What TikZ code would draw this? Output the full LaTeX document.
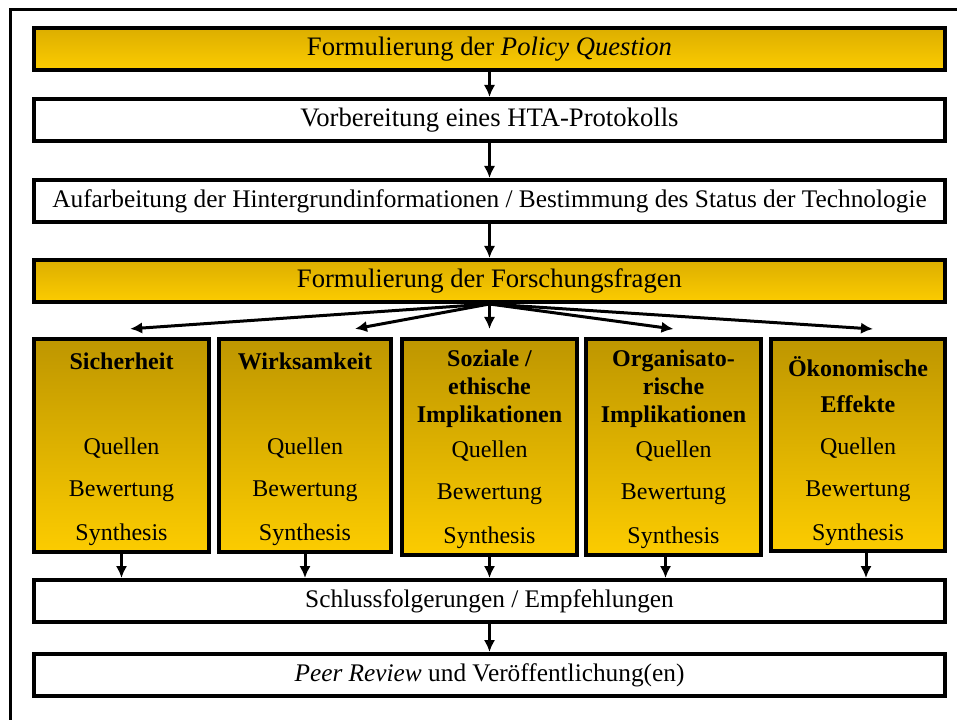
\documentclass[tikz,border=0pt]{standalone}
\usepackage{fontspec}
\setmainfont{Liberation Serif}
\usetikzlibrary{arrows.meta}

\definecolor{goldlight}{RGB}{252,204,0}
\definecolor{golddark}{RGB}{220,174,0}
\definecolor{golddeep}{RGB}{190,150,0}

\begin{document}
\begin{tikzpicture}[x=0.75pt,y=-0.75pt,>={Latex[length=9pt,width=8.5pt]}]

  \tikzstyle{every node}=[font=\fontsize{18}{21}\selectfont]
  \tikzstyle{whitebox}=[draw, line width=3pt, minimum width=683pt, minimum height=31.5pt, inner sep=0pt, fill=white, font=\fontsize{20}{24}\selectfont]
  \tikzstyle{goldbox}=[whitebox, top color=golddark, bottom color=goldlight]
  \tikzstyle{smalltext}=[font=\fontsize{19}{23}\selectfont]
  \tikzstyle{colbox}=[draw, line width=3pt, inner sep=0pt, top color=golddeep, bottom color=goldlight]
  \tikzstyle{coltitle}=[font=\fontsize{18}{21}\selectfont\bfseries, align=center]
  \tikzstyle{arr}=[->, line width=2.25pt]

  \clip (0,0) rectangle (957,720);
  \draw [line width=2.25pt] (10,760) -- (10,10) -- (1000,10);

  \node [goldbox]  (policy) at (489.5,49)  {Formulierung der \textit{Policy Question}};
  \node [whitebox] (hta)    at (489.5,120) {Vorbereitung eines HTA-Protokolls};
  \node [whitebox, smalltext] (status) at (489.5,201) {Aufarbeitung der Hintergrundinformationen / Bestimmung des Status der Technologie};
  \node [goldbox]  (forsch) at (489.5,281) {Formulierung der Forschungsfragen};

  \draw [arr] (policy) -- (hta);
  \draw [arr] (hta) -- (status);
  \draw [arr] (status) -- (forsch);

  %%% five assessment columns
  \node [colbox, minimum width=131.25pt, minimum height=160pt] (col1) at (121.5,445.5) {};
  \node [colbox, minimum width=129pt,    minimum height=160pt] (col2) at (305,445.5) {};
  \node [colbox, minimum width=131.25pt, minimum height=162pt] (col3) at (489.5,447) {};
  \node [colbox, minimum width=131.25pt, minimum height=162pt] (col4) at (673.5,447) {};
  \node [colbox, minimum width=130.5pt,  minimum height=159pt] (col5) at (858,445) {};

  \node [coltitle] (title1) at (121.5,361) {Sicherheit};
  \node [coltitle] (title2) at (305,361) {Wirksamkeit};
  \node [coltitle] (title3) at (489.5,389) {Soziale /\\ ethische\\ Implikationen};
  \node [coltitle] (title4) at (673.5,389) {Organisato-\\ rische\\ Implikationen};
  \node [coltitle] (title5) at (858,385) {Ökonomische\\[6pt] Effekte};

  \foreach \n/\x/\y in {1/121.5/0, 2/305/0, 3/489.5/3, 4/673.5/3, 5/858/0}
  {
    \node (quellen\n)   at (\x,448+\y) {Quellen};
    \node (bewertung\n) at (\x,491+\y) {Bewertung};
    \node (synthesis\n) at (\x,535+\y) {Synthesis};
  }

  %%% fan out from the research questions
  \draw [arr] (forsch.south) -- ([xshift=6.5pt,yshift=6pt]col1.north);
  \draw [arr] (forsch.south) -- ([xshift=37.5pt,yshift=6pt]col2.north);
  \draw [arr] (forsch.south) -- ([yshift=6pt]col3.north);
  \draw [arr] (forsch.south) -- ([yshift=6pt]col4.north);
  \draw [arr] (forsch.south) -- ([xshift=11.25pt,yshift=6pt]col5.north);

  \node [whitebox, smalltext] (schluss) at (489.5,601) {Schlussfolgerungen / Empfehlungen};
  \node [whitebox, smalltext] (peer)    at (489.5,675) {\textit{Peer Review} und Veröffentlichung(en)};

  \foreach \n/\d in {1/0, 2/0, 3/0, 4/-6, 5/6}
  {
    \draw [arr] ([xshift=\d pt]col\n.south) -- ([xshift=\d pt]col\n.south |- schluss.north);
  }
  \draw [arr] (schluss) -- (peer);

\end{tikzpicture}
\end{document}
